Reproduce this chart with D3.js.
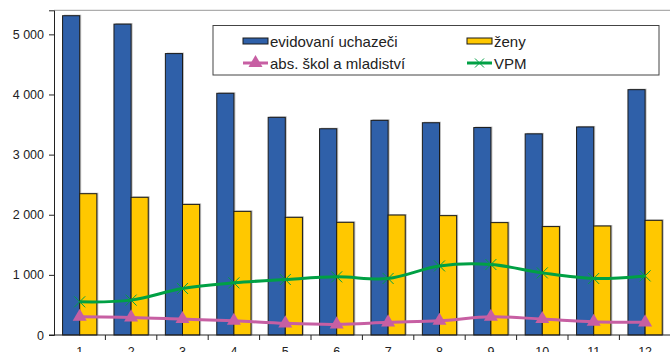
<!DOCTYPE html>
<html>
<head>
<meta charset="utf-8">
<script src="https://cdn.jsdelivr.net/npm/d3@7"></script>
<style>
  body { margin: 0; background: #fff; }
  svg { display: block; font-family: "Liberation Sans", Arial, sans-serif; }
</style>
</head>
<body>
<div id="chart"></div>
<script>
const width = 670
const height = 352

// data
const months = ["1", "2", "3", "4", "5", "6", "7", "8", "9", "10", "11", "12"]
const evidovani = [5310, 5170, 4680, 4020, 3620, 3430, 3570, 3530, 3450, 3345, 3460, 4080]
const zeny = [2350, 2290, 2172, 2056, 1957, 1874, 1995, 1985, 1869, 1803, 1813, 1907]
const absolventi = [303, 293, 265, 237, 194, 177, 210, 237, 303, 265, 220, 210]
const vpm = [552, 580, 774, 867, 923, 967, 940, 1149, 1172, 1033, 940, 983]
const yTicks = [0, 1000, 2000, 3000, 4000, 5000]

const plotLeft = 54
const plotTop = 10.3
const plotBottom = 335

const svg = d3.select("#chart").append("svg")
    .attr("width", width)
    .attr("height", height)

const x0 = d3.scaleBand()
    .domain(months)
    .range([plotLeft, plotLeft + 12 * 51.4])
    .padding(0)

const x1 = d3.scaleBand()
    .domain(["ev", "z"])
    .range([0, x0.bandwidth()])
    .paddingInner(0)
    .paddingOuter(0.5)

const y = d3.scaleLinear()
    .domain([0, 5400])
    .range([plotBottom, plotTop])

// plot frame (top edge gray)
svg.append("line")
    .attr("x1", plotLeft).attr("x2", width)
    .attr("y1", plotTop).attr("y2", plotTop)
    .attr("stroke", "#999")
    .attr("stroke-width", 1)

const fmt = v => d3.format(",")(v).replace(",", " ")

// y axis
const yAxis = svg.append("g")
    .attr("transform", `translate(${plotLeft},0)`)
    .call(d3.axisLeft(y).tickValues(yTicks).tickSize(5).tickPadding(5).tickFormat(fmt))
yAxis.select(".domain").attr("stroke", "#222")
yAxis.selectAll(".tick line").attr("stroke", "#222")
yAxis.selectAll("text")
    .attr("font-size", 12.5)
    .attr("fill", "#222")
    .attr("font-family", "Liberation Sans, Arial, sans-serif")

// bars
const groups = svg.append("g").selectAll("g")
    .data(months)
    .join("g")
    .attr("transform", d => `translate(${x0(d)},0)`)

const series = [
    { key: "ev", values: evidovani, color: "#2F60A9" },
    { key: "z", values: zeny, color: "#FFC800" }
]

for (const s of series) {
    groups.append("rect")
        .attr("x", x1(s.key) + 1.5)
        .attr("y", (d, i) => y(s.values[i]) - 1)
        .attr("width", x1.bandwidth())
        .attr("height", (d, i) => plotBottom - y(s.values[i]) + 1)
        .attr("fill", "#888")
        .attr("opacity", 0.55)
    groups.append("rect")
        .attr("x", x1(s.key))
        .attr("y", (d, i) => y(s.values[i]))
        .attr("width", x1.bandwidth())
        .attr("height", (d, i) => plotBottom - y(s.values[i]))
        .attr("fill", s.color)
        .attr("stroke", "#1a1a1a")
        .attr("stroke-width", 1)
}

// x axis
const xAxis = svg.append("g")
    .attr("transform", `translate(0,${plotBottom})`)
    .call(d3.axisBottom(x0).tickSize(0).tickPadding(12))
xAxis.select(".domain").remove()
xAxis.selectAll("text")
    .attr("font-size", 12.5)
    .attr("fill", "#222")
    .attr("font-family", "Liberation Sans, Arial, sans-serif")
svg.append("line")
    .attr("x1", plotLeft - 5).attr("x2", width)
    .attr("y1", plotBottom).attr("y2", plotBottom)
    .attr("stroke", "#222")
svg.append("g").selectAll("line")
    .data(months.slice(1))
    .join("line")
    .attr("x1", d => x0(d)).attr("x2", d => x0(d))
    .attr("y1", plotBottom).attr("y2", plotBottom + 5)
    .attr("stroke", "#222")

const cx = d => x0(d) + x0.bandwidth() / 2

// lines
const line = vals => d3.line()
    .x((d, i) => cx(months[i]))
    .y(d => y(d))
    .curve(d3.curveCatmullRom.alpha(0.5))(vals)

const pink = "#C75FA3"
const green = "#00A044"

svg.append("path")
    .attr("d", line(absolventi))
    .attr("fill", "none")
    .attr("stroke", pink)
    .attr("stroke-width", 3)

const tri = d3.symbol().type(d3.symbolTriangle).size(85)
svg.append("g").selectAll("path")
    .data(absolventi)
    .join("path")
    .attr("d", tri)
    .attr("transform", (d, i) => `translate(${cx(months[i])},${y(d)})`)
    .attr("fill", pink)

svg.append("path")
    .attr("d", line(vpm))
    .attr("fill", "none")
    .attr("stroke", green)
    .attr("stroke-width", 3)

function cross(g, px, py, r) {
    g.append("path")
        .attr("d", `M${px - r},${py - r}L${px + r},${py + r}M${px - r},${py + r}L${px + r},${py - r}`)
        .attr("stroke", green)
        .attr("stroke-width", 1)
        .attr("fill", "none")
}
const crosses = svg.append("g")
vpm.forEach((v, i) => cross(crosses, cx(months[i]), y(v), 5.5))

// legend
const legend = svg.append("g")
legend.append("rect")
    .attr("x", 213).attr("y", 25.5)
    .attr("width", 446).attr("height", 49.5)
    .attr("fill", "#fff")
    .attr("stroke", "#444")

const legendItems = [
    { label: "evidovaní uchazeči", x: 243, yc: 41, type: "bar", color: "#2F60A9" },
    { label: "ženy", x: 467, yc: 41, type: "bar", color: "#FFC800" },
    { label: "abs. škol a mladiství", x: 243, yc: 63, type: "tri", color: pink },
    { label: "VPM", x: 467, yc: 63, type: "cross", color: green }
]

for (const it of legendItems) {
    if (it.type === "bar") {
        legend.append("rect")
            .attr("x", it.x).attr("y", it.yc - 3)
            .attr("width", 25).attr("height", 6)
            .attr("fill", it.color)
            .attr("stroke", "#1a1a1a")
    } else {
        legend.append("line")
            .attr("x1", it.x).attr("x2", it.x + 25)
            .attr("y1", it.yc).attr("y2", it.yc)
            .attr("stroke", it.color)
            .attr("stroke-width", 3)
        if (it.type === "tri") {
            legend.append("path")
                .attr("d", tri)
                .attr("transform", `translate(${it.x + 12.5},${it.yc})`)
                .attr("fill", it.color)
        } else {
            cross(legend, it.x + 12.5, it.yc, 4.5)
        }
    }
    legend.append("text")
        .attr("x", it.x + 27)
        .attr("y", it.yc + 5.5)
        .attr("font-size", 15)
        .attr("fill", "#222")
        .text(it.label)
}
</script>
</body>
</html>
